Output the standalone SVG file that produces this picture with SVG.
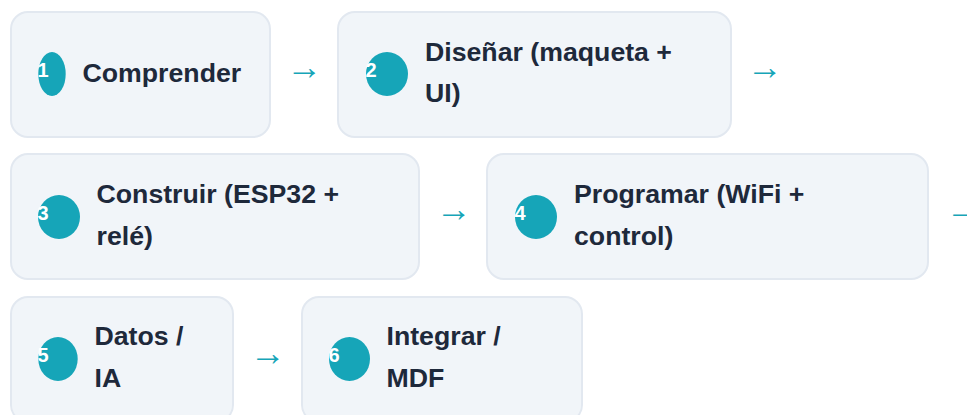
<svg xmlns="http://www.w3.org/2000/svg" width="967" height="415" viewBox="0 0 967 415">
<style>
.box{fill:#f1f5f9;stroke:#e2e8f0;stroke-width:2}
.badge{fill:#16a5b8}
.num{font-family:"Liberation Sans",Arial,sans-serif;font-weight:bold;font-size:20px;fill:#ffffff}
.lbl{font-family:"Liberation Sans",Arial,sans-serif;font-weight:bold;font-size:26.7px;fill:#1e293b}
.arr{font-family:"Liberation Sans",Arial,sans-serif;font-size:36px;fill:#16a5b8}
</style>
<rect width="967" height="415" fill="#ffffff"/>
<g id="step1">
<rect class="box" x="11" y="12" width="259" height="125" rx="17"/>
<ellipse class="badge" cx="52" cy="74" rx="13.7" ry="22"/>
<text class="num" x="37.5" y="77">1</text>
<text class="lbl" x="82.5" y="82">Comprender</text>
</g>
<g id="step2">
<rect class="box" x="338" y="12" width="393" height="125" rx="17"/>
<ellipse class="badge" cx="387" cy="74" rx="21" ry="22"/>
<text class="num" x="365.5" y="77">2</text>
<text class="lbl" x="425" y="61">Diseñar (maqueta +</text>
<text class="lbl" x="425" y="102">UI)</text>
</g>
<g id="step3">
<rect class="box" x="11" y="154" width="408" height="125" rx="17"/>
<ellipse class="badge" cx="59" cy="217" rx="21" ry="22"/>
<text class="num" x="37.5" y="220">3</text>
<text class="lbl" x="96.5" y="203">Construir (ESP32 +</text>
<text class="lbl" x="96.5" y="245">relé)</text>
</g>
<g id="step4">
<rect class="box" x="487" y="154" width="441" height="125" rx="17"/>
<ellipse class="badge" cx="536" cy="217" rx="21" ry="22"/>
<text class="num" x="514.5" y="220">4</text>
<text class="lbl" x="574" y="203">Programar (WiFi +</text>
<text class="lbl" x="574" y="245">control)</text>
</g>
<g id="step5">
<rect class="box" x="11" y="297" width="222" height="125" rx="17"/>
<ellipse class="badge" cx="58" cy="359" rx="19.7" ry="22"/>
<text class="num" x="37.5" y="362">5</text>
<text class="lbl" x="94.5" y="345">Datos /</text>
<text class="lbl" x="94.5" y="387">IA</text>
</g>
<g id="step6">
<rect class="box" x="302" y="297" width="280" height="125" rx="17"/>
<ellipse class="badge" cx="349.5" cy="359" rx="20.5" ry="22"/>
<text class="num" x="328.5" y="362">6</text>
<text class="lbl" x="386.5" y="345">Integrar /</text>
<text class="lbl" x="386.5" y="387">MDF</text>
</g>
<g id="connectors">
<text class="arr" x="286.5" y="79">→</text>
<text class="arr" x="747" y="79">→</text>
<text class="arr" x="436" y="221">→</text>
<text class="arr" x="946" y="221">→</text>
<text class="arr" x="250" y="364.5">→</text>
</g>
</svg>
